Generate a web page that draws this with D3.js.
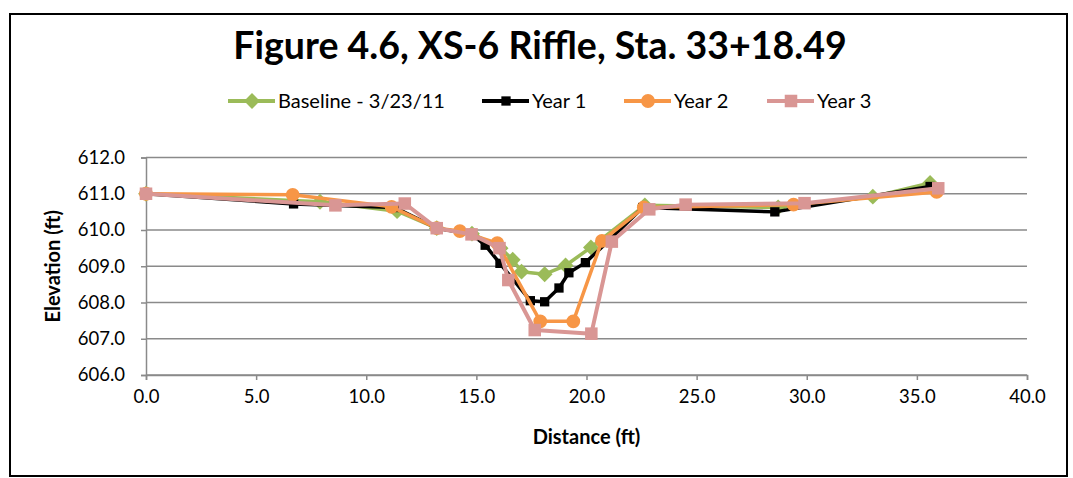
<!DOCTYPE html>
<html>
<head>
<meta charset="utf-8">
<script src="https://cdn.jsdelivr.net/npm/d3@7"></script>
<style>
  body { margin: 0; background: #fff; }
  svg { display: block; font-family: Lato, "Open Sans", sans-serif; }
</style>
</head>
<body>
<svg id="chart" width="1073" height="478"></svg>
<script>
// series values: [distance ft, elevation ft]
const baseline = [[0, 611.0], [7.9, 610.78], [11.4, 610.52], [13.2, 610.05], [14.8, 609.9], [16.1, 609.5],
  [16.65, 609.18], [17.05, 608.85], [18.1, 608.78], [19.05, 609.02], [20.2, 609.52], [22.65, 610.68],
  [28.7, 610.62], [33.0, 610.92], [35.6, 611.3]];
const year1 = [[0, 611.0], [6.7, 610.72], [11.3, 610.62], [13.2, 610.05], [14.8, 609.88], [15.4, 609.58],
  [16.07, 609.08], [17.45, 608.05], [18.1, 608.02], [18.75, 608.4], [19.2, 608.82], [19.95, 609.1],
  [21.0, 609.7], [22.55, 610.62], [28.55, 610.5], [35.6, 611.2]];
const year2 = [[0, 611.0], [6.66, 610.97], [11.15, 610.64], [13.2, 610.05], [14.25, 609.97], [15.95, 609.64],
  [17.9, 607.48], [19.4, 607.48], [20.7, 609.7], [22.6, 610.62], [29.4, 610.7], [35.9, 611.05]];
const year3 = [[0, 611.0], [8.6, 610.68], [11.75, 610.73], [13.2, 610.05], [14.78, 609.88], [16.05, 609.5],
  [16.45, 608.62], [17.65, 607.24], [20.22, 607.14], [21.15, 609.68], [22.85, 610.57], [24.5, 610.7],
  [29.9, 610.74], [35.97, 611.15]];

const seriesNames = ["Baseline - 3/23/11", "Year 1", "Year 2", "Year 3"];
const xTicks = [0, 5, 10, 15, 20, 25, 30, 35, 40];
const yTicks = [606, 607, 608, 609, 610, 611, 612];

const colors = ["#9bbb59", "#000000", "#f79646", "#d99694"];
const symbols = [d3.symbolDiamond2, d3.symbolSquare2, d3.symbolCircle, d3.symbolSquare2];
const symSize = [160, 110, 150, 200];
const allSeries = [baseline, year1, year2, year3];

const svg = d3.select("#chart");

// outer chart border
svg.append("rect")
  .attr("x", 10).attr("y", 14).attr("width", 1057).attr("height", 462)
  .attr("fill", "none").attr("stroke", "#000").attr("stroke-width", 2);

const x = d3.scaleLinear().domain([0, 40]).range([146, 1027]);
const y = d3.scaleLinear().domain([606, 612]).range([375, 157.5]);

// title
svg.append("text")
  .attr("x", 540).attr("y", 59)
  .attr("text-anchor", "middle")
  .attr("font-size", 37.5).attr("font-weight", "bold")
  .text("Figure 4.6, XS-6 Riffle, Sta. 33+18.49");

// gridlines
svg.append("g")
  .selectAll("line")
  .data(yTicks)
  .join("line")
  .attr("x1", x(0)).attr("x2", x(40))
  .attr("y1", d => y(d)).attr("y2", d => y(d))
  .attr("stroke", "#8a8a8a").attr("stroke-width", 1.5);

// axes
const xAxis = svg.append("g")
  .attr("transform", `translate(0,${y(606)})`)
  .call(d3.axisBottom(x).tickValues(xTicks).tickFormat(d3.format(".1f")).tickSize(5).tickPadding(10));
const yAxis = svg.append("g")
  .attr("transform", `translate(${x(0)},0)`)
  .call(d3.axisLeft(y).tickValues(yTicks).tickFormat(d3.format(".1f")).tickSize(5).tickPadding(16));

[xAxis, yAxis].forEach(a => {
  a.select(".domain").attr("stroke", "#8a8a8a").attr("stroke-width", 1.5);
  a.selectAll(".tick line").attr("stroke", "#8a8a8a").attr("stroke-width", 1.5);
  a.selectAll(".tick text").attr("font-family", "Lato, sans-serif").attr("font-size", 18.5).attr("fill", "#000");
});

// axis titles
svg.append("text")
  .attr("x", (x(0) + x(40)) / 2).attr("y", 444)
  .attr("text-anchor", "middle")
  .attr("font-size", 20).attr("font-weight", "bold")
  .text("Distance (ft)");
svg.append("text")
  .attr("transform", `translate(60,${(y(606) + y(612)) / 2}) rotate(-90)`)
  .attr("text-anchor", "middle")
  .attr("font-size", 20).attr("font-weight", "bold")
  .text("Elevation (ft)");

// lines + markers
const line = d3.line().x(d => x(d[0])).y(d => y(d[1]));
allSeries.forEach((s, i) => {
  const g = svg.append("g");
  g.append("path")
    .datum(s)
    .attr("fill", "none")
    .attr("stroke", colors[i])
    .attr("stroke-width", i == 3 ? 4 : 3.5)
    .attr("stroke-linejoin", "round")
    .attr("d", line);
  g.selectAll("path.pt")
    .data(s)
    .join("path")
    .attr("class", "pt")
    .attr("transform", d => `translate(${x(d[0])},${y(d[1])})`)
    .attr("d", d3.symbol().type(symbols[i]).size(symSize[i]))
    .attr("fill", colors[i]);
});

// legend
const legendX = [228, 482, 624, 767];
const legend = svg.append("g").attr("transform", "translate(0,101)");
seriesNames.forEach((name, i) => {
  const g = legend.append("g").attr("transform", `translate(${legendX[i]},0)`);
  g.append("line").attr("x1", 0).attr("x2", 47).attr("stroke", colors[i]).attr("stroke-width", 4);
  g.append("path")
    .attr("transform", "translate(24,0)")
    .attr("d", d3.symbol().type(symbols[i]).size(symSize[i]))
    .attr("fill", colors[i]);
  g.append("text")
    .attr("x", 50).attr("y", 7)
    .attr("font-size", 20)
    .text(name);
});
</script>
</body>
</html>
